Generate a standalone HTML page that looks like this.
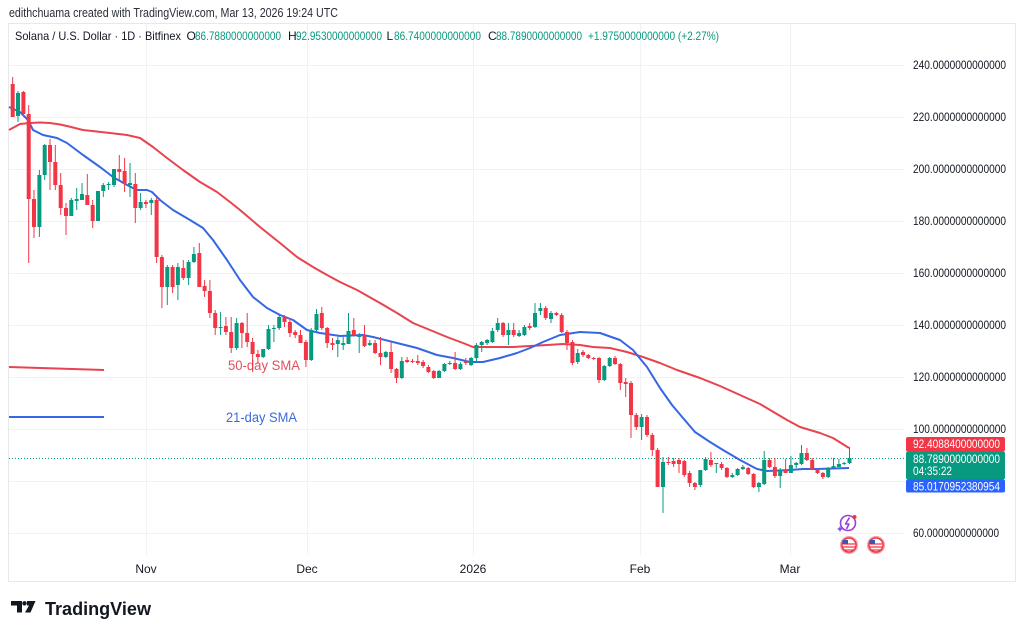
<!DOCTYPE html>
<html><head><meta charset="utf-8"><style>
html,body{margin:0;padding:0;background:#fff;}
svg{display:block;}
text{font-family:"Liberation Sans",sans-serif;}
</style></head><body>
<svg width="1024" height="635" viewBox="0 0 1024 635" xmlns="http://www.w3.org/2000/svg">
<rect width="1024" height="635" fill="#fff"/>
<text x="9" y="17" font-size="12.5" fill="#2a2e39" textLength="329" lengthAdjust="spacingAndGlyphs">edithchuama created with TradingView.com, Mar 13, 2026 19:24 UTC</text>
<rect x="8.5" y="23.5" width="1007" height="558" fill="#fff" stroke="#e6e8ee" stroke-width="1"/>
<!-- grid -->
<g stroke="#f0f2f6" stroke-width="1">
<path d="M9 65.5H905M9 117.5H905M9 169.5H905M9 221.5H905M9 273.5H905M9 325.5H905M9 377.5H905M9 429.5H905M9 481.5H905M9 533.5H905"/>
<path d="M146.5 24V555M307.5 24V555M473.5 24V555M640.5 24V555M790.5 24V555"/>
</g>
<!-- legend line -->
<g font-size="12">
<text x="15" y="40" fill="#131722" textLength="166" lengthAdjust="spacingAndGlyphs">Solana / U.S. Dollar · 1D · Bitfinex</text>
<text x="186.5" y="40" fill="#131722">O</text>
<text x="195" y="40" fill="#089981" textLength="86" lengthAdjust="spacingAndGlyphs">86.7880000000000</text>
<text x="288" y="40" fill="#131722">H</text>
<text x="296" y="40" fill="#089981" textLength="86" lengthAdjust="spacingAndGlyphs">92.9530000000000</text>
<text x="386.5" y="40" fill="#131722">L</text>
<text x="394" y="40" fill="#089981" textLength="87" lengthAdjust="spacingAndGlyphs">86.7400000000000</text>
<text x="488" y="40" fill="#131722">C</text>
<text x="496" y="40" fill="#089981" textLength="86" lengthAdjust="spacingAndGlyphs">88.7890000000000</text>
<text x="588" y="40" fill="#089981" textLength="131" lengthAdjust="spacingAndGlyphs">+1.9750000000000 (+2.27%)</text>
</g>
<!-- SMA legend -->
<path d="M9 367L104 370" stroke="#e8434e" stroke-width="2" fill="none"/>
<path d="M9 417H104" stroke="#3466e6" stroke-width="2" fill="none"/>
<text x="228" y="370" font-size="13.5" fill="#e0505c" textLength="72" lengthAdjust="spacingAndGlyphs">50-day SMA</text>
<text x="226" y="422" font-size="13.5" fill="#3a6ae0" textLength="71" lengthAdjust="spacingAndGlyphs">21-day SMA</text>
<!-- price line -->
<path d="M9 458.5H905" stroke="#089981" stroke-width="1" stroke-dasharray="1 2"/>
<!-- SMAs -->
<polyline fill="none" stroke="#e8434e" stroke-width="2" stroke-linejoin="round" points="9,130 20,124 30,123 40,122.5 50,123 60,124.5 67,126 83,130 110,133 127,135 140,138 153,147 167,158 183,170 200,182 217,192 230,202 240,210 260,227 280,243 297,257 313,267 327,275 340,282 357,290 380,303 397,313 413,323 430,330 447,337 463,343 473,347 483,347 513,347 547,345 563,344 580,345 593,347 610,348 627,352 643,357 660,363 677,370 700,378 720,386 740,395 760,404 787,420 800,427 820,433 833,438 849,448"/>
<polyline fill="none" stroke="#3466e6" stroke-width="2" stroke-linejoin="round" points="9,107 20,112 28,120 33,130 43,135 57,138 67,143 83,155 100,167 113,177 127,185 137,190 147,190 152,192 160,200 173,210 190,220 203,228 213,240 227,260 240,280 253,297 267,308 280,315 293,320 307,330 320,333 340,336 363,335 373,337 397,343 417,348 437,355 453,358 470,362 483,362 500,358 517,353 530,348 543,342 560,335 580,332 600,333 620,340 633,350 647,367 660,388 672,405 683,418 695,432 710,442 723,450 740,460 757,469 767,471 790,470 803,469 817,469 849,468"/>
<!-- green wicks -->
<path fill="none" stroke="#089981" stroke-width="1" d="M18.0 91V122M39.4 170V237M44.7 144V180M71.3 198V216M76.7 188V210M82.0 183V200M98.0 191V221M103.3 183V197M108.6 182V190M114.0 169V187M130.0 163V197M140.6 193V210M151.3 198V215M167.3 265V305M177.9 263V300M188.6 260V285M193.9 247V263M220.6 312V335M236.6 318V350M263.2 349V358M268.5 325V350M273.9 325V342M279.2 315V330M311.2 328V361M316.5 309V332M337.8 337V357M343.2 337V350M348.5 313V344M359.2 333V353M369.8 340V346M385.8 351V358M401.8 357V379M439.1 370V378M444.4 363V372M449.8 361V365M460.4 362V370M471.1 357V366M476.4 343V362M481.7 341V352M487.1 339V345M492.4 328V343M497.7 318V332M508.4 323V345M519.1 330V337M524.4 325V336M535.0 303V328M540.4 303V315M551.0 311V323M577.7 349V364M604.3 365V381M609.7 357V367M641.6 414V440M663.0 457V513M700.3 470V487M705.6 457V471M716.3 463V473M732.3 473V478M737.6 468V476M742.9 465V470M758.9 482V492M764.2 451V485M780.2 468V488M790.9 456V473M796.2 462V468M801.5 445V465M828.2 467V478M833.5 458V468M838.9 459V467M844.2 462V465M849.5 447V464"/>
<!-- green bodies -->
<g fill="#089981">
<rect x="16.0" y="93" width="4" height="23"/><rect x="37.4" y="175" width="4" height="52"/><rect x="42.7" y="145" width="4" height="30"/><rect x="69.3" y="200" width="4" height="16"/><rect x="74.7" y="199" width="4" height="2"/><rect x="80.0" y="194" width="4" height="6"/><rect x="96.0" y="191" width="4" height="30"/><rect x="101.3" y="185" width="4" height="6"/><rect x="106.6" y="184" width="4" height="1"/><rect x="112.0" y="169" width="4" height="16"/>
<rect x="128.0" y="183" width="4" height="2"/><rect x="138.6" y="202" width="4" height="6"/><rect x="149.3" y="200" width="4" height="3"/><rect x="165.3" y="267" width="4" height="20"/><rect x="175.9" y="267" width="4" height="18"/><rect x="186.6" y="262" width="4" height="16"/><rect x="191.9" y="254" width="4" height="8"/><rect x="218.6" y="327" width="4" height="1"/><rect x="234.6" y="323" width="4" height="25"/><rect x="261.2" y="349" width="4" height="8"/>
<rect x="266.5" y="329" width="4" height="20"/><rect x="271.9" y="328" width="4" height="1"/><rect x="277.2" y="317" width="4" height="11"/><rect x="309.2" y="330" width="4" height="30"/><rect x="314.5" y="314" width="4" height="16"/><rect x="335.8" y="340" width="4" height="4"/><rect x="341.2" y="343" width="4" height="2"/><rect x="346.5" y="331" width="4" height="13"/><rect x="357.2" y="335" width="4" height="2"/><rect x="367.8" y="343" width="4" height="2"/>
<rect x="383.8" y="352" width="4" height="5"/><rect x="399.8" y="361" width="4" height="17"/><rect x="437.1" y="371" width="4" height="7"/><rect x="442.4" y="364" width="4" height="7"/><rect x="447.8" y="363" width="4" height="1"/><rect x="458.4" y="364" width="4" height="5"/><rect x="469.1" y="358" width="4" height="7"/><rect x="474.4" y="345" width="4" height="13"/><rect x="479.7" y="342" width="4" height="3"/><rect x="485.1" y="340" width="4" height="3"/>
<rect x="490.4" y="331" width="4" height="11"/><rect x="495.7" y="323" width="4" height="7"/><rect x="506.4" y="330" width="4" height="5"/><rect x="517.1" y="333" width="4" height="3"/><rect x="522.4" y="327" width="4" height="8"/><rect x="533.0" y="313" width="4" height="14"/><rect x="538.4" y="308" width="4" height="3"/><rect x="549.0" y="313" width="4" height="6"/><rect x="575.7" y="353" width="4" height="9"/><rect x="602.3" y="366" width="4" height="14"/>
<rect x="607.7" y="358" width="4" height="8"/><rect x="639.6" y="417" width="4" height="10"/><rect x="661.0" y="462" width="4" height="25"/><rect x="698.3" y="470" width="4" height="15"/><rect x="703.6" y="459" width="4" height="11"/><rect x="714.3" y="463" width="4" height="1"/><rect x="730.3" y="475" width="4" height="2"/><rect x="735.6" y="469" width="4" height="6"/><rect x="740.9" y="467" width="4" height="2"/><rect x="756.9" y="483" width="4" height="4"/>
<rect x="762.2" y="460" width="4" height="24"/><rect x="778.2" y="470" width="4" height="6"/><rect x="788.9" y="465" width="4" height="8"/><rect x="794.2" y="463" width="4" height="2"/><rect x="799.5" y="453" width="4" height="11"/><rect x="826.2" y="468" width="4" height="9"/><rect x="831.5" y="466" width="4" height="2"/><rect x="836.9" y="464" width="4" height="3"/><rect x="842.2" y="463" width="4" height="1"/><rect x="847.5" y="458" width="4" height="5"/>
</g>
<!-- red wicks -->
<path fill="none" stroke="#f23645" stroke-width="1" d="M12.7 77V117M23.4 91V116M28.7 105V263M34.0 190V238M50.0 139V190M55.3 145V190M60.7 173V215M66.0 203V235M87.3 174V205M92.7 200V228M119.3 155V180M124.6 158V192M135.3 173V223M145.9 200V208M156.6 198V263M161.9 255V308M172.6 265V293M183.3 260V280M199.3 243V287M204.6 280V297M209.9 280V318M215.2 310V335M225.9 317V335M231.2 317V353M241.9 322V348M247.2 313V347M252.6 338V372M257.9 350V363M284.5 315V327M289.9 318V337M295.2 330V338M300.5 330V343M305.9 340V367M321.8 307V330M327.2 327V348M332.5 338V350M353.8 318V336M364.5 325V347M375.1 340V354M380.5 337V365M391.1 342V373M396.5 368V383M407.1 357V363M412.5 359V363M417.8 355V365M423.1 360V368M428.4 365V373M433.8 370V379M455.1 352V370M465.8 358V365M503.1 322V337M513.7 323V337M529.7 323V330M545.7 306V320M556.4 312V316M561.7 313V333M567.0 330V350M572.4 340V365M583.0 350V357M588.3 354V359M593.7 357V360M599.0 357V383M615.0 356V365M620.3 363V390M625.7 378V397M631.0 381V438M636.3 413V430M647.0 415V437M652.3 433V456M657.6 448V487M668.3 457V465M673.6 458V467M679.0 458V473M684.3 460V477M689.6 471V487M694.9 482V490M710.9 452V467M721.6 462V470M726.9 467V478M748.2 467V475M753.6 473V488M769.6 458V468M774.9 458V478M785.6 459V473M806.9 448V461M812.2 458V470M817.5 468V474M822.9 472V479"/>
<!-- red bodies -->
<g fill="#f23645">
<rect x="10.7" y="84" width="4" height="33"/><rect x="21.4" y="92" width="4" height="22"/><rect x="26.7" y="114" width="4" height="85"/><rect x="32.0" y="199" width="4" height="28"/><rect x="48.0" y="145" width="4" height="17"/><rect x="53.3" y="162" width="4" height="23"/><rect x="58.7" y="185" width="4" height="23"/><rect x="64.0" y="208" width="4" height="8"/><rect x="85.3" y="195" width="4" height="10"/><rect x="90.7" y="205" width="4" height="16"/>
<rect x="117.3" y="169" width="4" height="3"/><rect x="122.6" y="171" width="4" height="13"/><rect x="133.3" y="184" width="4" height="24"/><rect x="143.9" y="202" width="4" height="2"/><rect x="154.6" y="200" width="4" height="57"/><rect x="159.9" y="257" width="4" height="30"/><rect x="170.6" y="267" width="4" height="20"/><rect x="181.3" y="268" width="4" height="10"/><rect x="197.3" y="253" width="4" height="34"/><rect x="202.6" y="286" width="4" height="5"/>
<rect x="207.9" y="291" width="4" height="22"/><rect x="213.2" y="313" width="4" height="15"/><rect x="223.9" y="326" width="4" height="6"/><rect x="229.2" y="332" width="4" height="16"/><rect x="239.9" y="323" width="4" height="10"/><rect x="245.2" y="333" width="4" height="9"/><rect x="250.6" y="342" width="4" height="12"/><rect x="255.9" y="354" width="4" height="3"/><rect x="282.5" y="317" width="4" height="5"/><rect x="287.9" y="322" width="4" height="11"/>
<rect x="293.2" y="332" width="4" height="3"/><rect x="298.5" y="335" width="4" height="8"/><rect x="303.9" y="342" width="4" height="18"/><rect x="319.8" y="313" width="4" height="15"/><rect x="325.2" y="328" width="4" height="15"/><rect x="330.5" y="343" width="4" height="2"/><rect x="351.8" y="330" width="4" height="5"/><rect x="362.5" y="335" width="4" height="11"/><rect x="373.1" y="343" width="4" height="10"/><rect x="378.5" y="353" width="4" height="4"/>
<rect x="389.1" y="352" width="4" height="17"/><rect x="394.5" y="369" width="4" height="9"/><rect x="405.1" y="360" width="4" height="2"/><rect x="410.5" y="361" width="4" height="1"/><rect x="415.8" y="361" width="4" height="2"/><rect x="421.1" y="362" width="4" height="4"/><rect x="426.4" y="367" width="4" height="5"/><rect x="431.8" y="371" width="4" height="7"/><rect x="453.1" y="363" width="4" height="6"/><rect x="463.8" y="361" width="4" height="2"/>
<rect x="501.1" y="323" width="4" height="12"/><rect x="511.7" y="330" width="4" height="5"/><rect x="527.7" y="326" width="4" height="2"/><rect x="543.7" y="308" width="4" height="10"/><rect x="554.4" y="313" width="4" height="2"/><rect x="559.7" y="315" width="4" height="17"/><rect x="565.0" y="332" width="4" height="11"/><rect x="570.4" y="342" width="4" height="21"/><rect x="581.0" y="352" width="4" height="3"/><rect x="586.3" y="355" width="4" height="3"/>
<rect x="591.7" y="358" width="4" height="1"/><rect x="597.0" y="358" width="4" height="22"/><rect x="613.0" y="358" width="4" height="6"/><rect x="618.3" y="364" width="4" height="19"/><rect x="623.7" y="382" width="4" height="2"/><rect x="629.0" y="383" width="4" height="32"/><rect x="634.3" y="415" width="4" height="12"/><rect x="645.0" y="417" width="4" height="18"/><rect x="650.3" y="435" width="4" height="15"/><rect x="655.6" y="450" width="4" height="37"/>
<rect x="666.3" y="462" width="4" height="1"/><rect x="671.6" y="461" width="4" height="3"/><rect x="677.0" y="460" width="4" height="4"/><rect x="682.3" y="461" width="4" height="14"/><rect x="687.6" y="473" width="4" height="10"/><rect x="692.9" y="483" width="4" height="4"/><rect x="708.9" y="460" width="4" height="5"/><rect x="719.6" y="464" width="4" height="4"/><rect x="724.9" y="468" width="4" height="9"/><rect x="746.2" y="468" width="4" height="6"/>
<rect x="751.6" y="474" width="4" height="13"/><rect x="767.6" y="460" width="4" height="7"/><rect x="772.9" y="467" width="4" height="9"/><rect x="783.6" y="470" width="4" height="3"/><rect x="804.9" y="453" width="4" height="7"/><rect x="810.2" y="460" width="4" height="9"/><rect x="815.5" y="469" width="4" height="4"/><rect x="820.9" y="473" width="4" height="4"/>
</g>
<!-- price axis labels -->
<g font-size="12" fill="#131722">
<text x="913" y="69" textLength="93" lengthAdjust="spacingAndGlyphs">240.0000000000000</text>
<text x="913" y="121" textLength="93" lengthAdjust="spacingAndGlyphs">220.0000000000000</text>
<text x="913" y="173" textLength="93" lengthAdjust="spacingAndGlyphs">200.0000000000000</text>
<text x="913" y="225" textLength="93" lengthAdjust="spacingAndGlyphs">180.0000000000000</text>
<text x="913" y="277" textLength="93" lengthAdjust="spacingAndGlyphs">160.0000000000000</text>
<text x="913" y="329" textLength="93" lengthAdjust="spacingAndGlyphs">140.0000000000000</text>
<text x="913" y="381" textLength="93" lengthAdjust="spacingAndGlyphs">120.0000000000000</text>
<text x="913" y="433" textLength="93" lengthAdjust="spacingAndGlyphs">100.0000000000000</text>
<text x="913" y="537" textLength="86" lengthAdjust="spacingAndGlyphs">60.0000000000000</text>
</g>
<!-- price boxes -->
<rect x="906" y="437" width="99" height="14.5" rx="2" fill="#f23645"/>
<rect x="906" y="451.5" width="99" height="28" rx="2" fill="#089981"/>
<rect x="906" y="479.5" width="99" height="13" rx="2" fill="#2962ff"/>
<g font-size="12" fill="#fff">
<text x="913" y="448" textLength="87" lengthAdjust="spacingAndGlyphs">92.4088400000000</text>
<text x="913" y="463" textLength="87" lengthAdjust="spacingAndGlyphs">88.7890000000000</text>
<text x="913" y="475" textLength="39" lengthAdjust="spacingAndGlyphs">04:35:22</text>
<text x="913" y="490.5" textLength="87" lengthAdjust="spacingAndGlyphs">85.0170952380954</text>
</g>
<!-- icons -->
<g>
<circle cx="848" cy="523" r="7.5" fill="#fff" stroke="#9c3fd6" stroke-width="1.6"/>
<path d="M849.5 517.5L845.5 524H849L846.5 529" fill="none" stroke="#9c3fd6" stroke-width="1.6" stroke-linejoin="round"/>
<path d="M840 526l1 2 2 1-2 1-1 2-1-2-2-1 2-1z" fill="#7b4fe0"/>
<circle cx="854.5" cy="517" r="2" fill="#f23645"/>
<circle cx="849" cy="545" r="9" fill="#f5a0a6"/>
<circle cx="849" cy="545" r="7" fill="#fff" stroke="#f23645" stroke-width="1.5"/>
<path d="M843 544H855M843 547H855M844 550H854" stroke="#f23645" stroke-width="1.3"/>
<rect x="842.5" y="540" width="5.5" height="4" fill="#3a56b0"/>
<circle cx="876" cy="545" r="9" fill="#f5a0a6"/>
<circle cx="876" cy="545" r="7" fill="#fff" stroke="#f23645" stroke-width="1.5"/>
<path d="M870 544H882M870 547H882M871 550H881" stroke="#f23645" stroke-width="1.3"/>
<rect x="869.5" y="540" width="5.5" height="4" fill="#3a56b0"/>
</g>
<!-- time axis -->
<g font-size="12" fill="#131722" text-anchor="middle">
<text x="146" y="573">Nov</text>
<text x="307" y="573">Dec</text>
<text x="473" y="573">2026</text>
<text x="640" y="573">Feb</text>
<text x="790" y="573">Mar</text>
</g>
<!-- logo -->
<g fill="#131722">
<path d="M11 601H22V612.5H17V605.5H11Z"/>
<circle cx="24.5" cy="603.3" r="2.2"/>
<path d="M27 601H35.5L30.5 612.5H25L29 605.5H27Z"/>
<text x="45" y="615" font-size="18" font-weight="bold" textLength="106" lengthAdjust="spacingAndGlyphs">TradingView</text>
</g>
</svg>
</body></html>
